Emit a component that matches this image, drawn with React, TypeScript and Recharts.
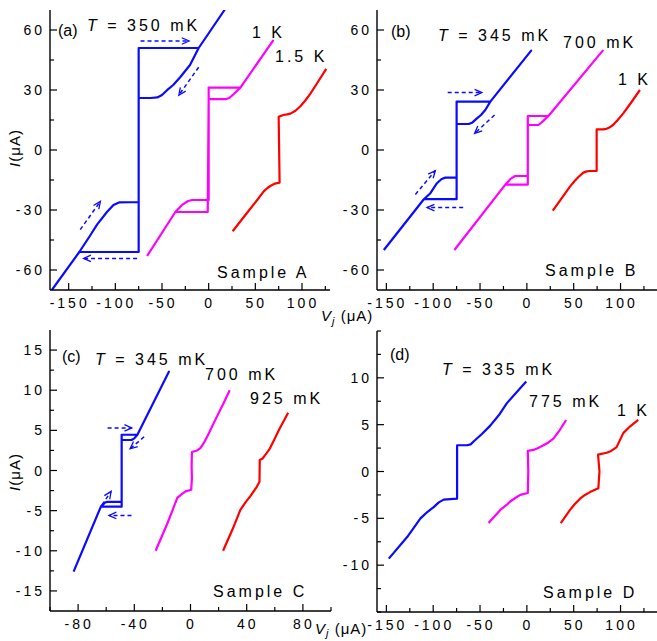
import { LineChart, Line, XAxis, YAxis, ReferenceLine } from 'recharts'

type Pt = [number, number]
type Seg = [number, number, number, number]

const FONT = '"Liberation Sans", Arial, Helvetica, sans-serif'
const BLUE = '#0a0aff'
const MAGENTA = '#ff00ff'
const RED = '#ff0000'

// ---- panel (a): sample A ----
const aBlue: Pt[] = [
  [-168, -70], [-138.6, -51], [-128, -43.5], [-119.6, -37.3], [-109, -31], [-102, -27.5], [-96, -26.2], [-75, -26],
  [-75, 51], [-10.7, 51], [17, 70],
  [-10.7, 51], [-20, 42.5], [-30.3, 36.5], [-38, 32.5], [-44.6, 29.9], [-50, 27.5], [-55, 26.3], [-62, 26], [-75, 26],
  [-75, -51], [-138.6, -51], [-168, -70],
]
const aMagenta: Pt[] = [
  [-66, -53], [-35.7, -31], [-28, -27.3], [-22, -25.5], [-17.8, -25], [0, -25], [0, 31.2], [34, 31.2], [69, 54.7],
  [34, 31.2], [27, 28], [22, 26], [18, 25.4], [0, 25.4], [-1, -31], [-35.7, -31], [-66, -53],
]
const aRed: Pt[] = [
  [25.7, -40.6], [41, -31.5], [52, -25], [59, -20.7], [63, -19], [66, -18], [71, -16.8], [76, -16.3], [75, 16.6],
  [80, 17.5], [84, 17.8], [87.6, 18.2], [93, 19.6], [98.3, 21.9], [104, 25], [109, 28.2], [117, 34], [126, 40.6],
]
const aArrows: Seg[] = [
  [-73, 54.5, -21, 54.5],
  [-10.7, 41.4, -32, 27.4],
  [-76.7, -54.2, -134, -54.2],
  [-137.6, -39.8, -116, -25.7],
]

// ---- panel (b): sample B ----
const bBlue: Pt[] = [
  [-152.7, -50], [-110, -24.6], [-103, -21.6], [-96, -16.6], [-91, -14.5], [-87, -13.8], [-75, -13.8],
  [-75, 24.2], [-39, 24.2], [4.6, 49.7],
  [-39, 24.2], [-44.4, 20], [-49, 17.5], [-53.3, 15.8], [-58, 13.8], [-62, 13], [-75, 13],
  [-75, -24.6], [-110, -24.6], [-152.7, -50],
]
const bMagenta: Pt[] = [
  [-77.4, -50], [-23, -17.3], [-17, -14.3], [-12.5, -13], [1, -13], [1, 17], [23, 17], [81, 49.7],
  [23, 17], [17, 14.3], [12.4, 12.5], [1, 12.5], [1, -17.3], [-23, -17.3], [-77.4, -50],
]
const bRed: Pt[] = [
  [27.7, -30.3], [46, -18.3], [51, -15.5], [55, -13.5], [60.3, -11.3], [64, -10.7], [67.4, -10.5], [74.5, -10.5],
  [74.5, 10.3], [81.6, 10.3], [85, 10.6], [88, 11.2], [92, 12.5], [97, 15], [102.9, 18.3], [111, 23.5], [120.7, 30],
]
const bArrows: Seg[] = [
  [-84.5, 28.7, -48, 28.7],
  [-34.5, 17.5, -55.8, 8.3],
  [-68, -28.8, -106.5, -28.8],
  [-119, -22.2, -97.7, -10.3],
]

// ---- panel (c): sample C ----
const cBlue: Pt[] = [
  [-83.2, -12.6], [-63.8, -4.5], [-61, -4], [-59, -3.9], [-49, -3.9], [-49, 4.45], [-37.8, 4.45], [-15.4, 12.3],
  [-37.8, 4.45], [-40, 4], [-42, 3.8], [-49, 3.8], [-49, -4.5], [-63.8, -4.5], [-83.2, -12.6],
]
const cMagenta: Pt[] = [
  [-24.8, -10], [-16.5, -6.6], [-12, -4.6], [-9.4, -3.4], [-6, -2.9], [-3.5, -2.6], [0.5, -2.4], [1, -1], [0.8, 0.5],
  [1, 2.3], [4.7, 2.5], [7, 2.8], [9.4, 3.4], [13, 4.6], [16.5, 5.9], [23.6, 8.4], [27.9, 10],
]
const cRed: Pt[] = [
  [23.2, -10], [30.7, -7], [35.5, -4.9], [39, -4], [42.6, -3.2], [47.3, -2], [49.1, -1.4], [49.3, 1.3], [51.3, 1.5],
  [53.5, 2], [56, 2.6], [59.5, 3.8], [63.1, 5.1], [69.5, 7.2],
]
const cArrows: Seg[] = [
  [-59, 5.3, -41.8, 5.3],
  [-33, 4.2, -43, 2.7],
  [-42, -5.6, -58, -5.6],
  [-63, -4.3, -56.5, -2.6],
]

// ---- panel (d): sample D ----
const dBlue: Pt[] = [
  [-147.4, -9.3], [-127.8, -7], [-113.6, -5], [-106, -4.3], [-99.5, -3.8], [-94, -3.3], [-88.8, -3], [-74.5, -2.9],
  [-74.5, 2.8], [-63.9, 2.8], [-60, 2.9], [-56.9, 3.2], [-48, 4], [-39.1, 4.9], [-30, 6], [-21.3, 7.3], [-0.7, 9.6],
]
const dMagenta: Pt[] = [
  [-40.9, -5.5], [-28.4, -4.1], [-22, -3.6], [-17.8, -3.2], [-12, -2.8], [-7.1, -2.5], [1, -2.3], [1.5, 0], [1, 2.2],
  [7, 2.3], [12, 2.5], [17.7, 2.8], [23, 3.1], [28.3, 3.5], [35, 4.4], [41.9, 5.5],
]
const dRed: Pt[] = [
  [36.2, -5.5], [46.1, -4.1], [51, -3.5], [56.8, -2.9], [62, -2.5], [67.4, -2.2], [76.3, -1.8], [77.5, 0], [76, 1.8],
  [85.2, 2], [90, 2.2], [95.8, 2.6], [102.9, 4.1], [110, 4.8], [118.9, 5.5],
]

// ---- ticks ----
const ticksAB_Y = [-60, -45, -30, -15, 0, 15, 30, 45, 60]
const ticksA_X = [-150, -125, -100, -75, -50, -25, 0, 25, 50, 75, 100, 125]
const ticksBD_X = [-150, -125, -100, -75, -50, -25, 0, 25, 50, 75, 100, 125]
const ticksC_X = [-100, -80, -60, -40, -20, 0, 20, 40, 60, 80, 100]
const ticksC_Y = [-15, -12.5, -10, -7.5, -5, -2.5, 0, 2.5, 5, 7.5, 10, 12.5, 15]
const ticksD_Y = [-15, -12.5, -10, -7.5, -5, -2.5, 0, 2.5, 5, 7.5, 10, 12.5, 15]

const rows = (pts: Pt[]) => pts.map(([v, i]) => ({ v, i }))

function DashArrow(props: any) {
  const { x1, y1, x2, y2 } = props
  if ([x1, y1, x2, y2].some((n) => n == null || Number.isNaN(n))) return <g />
  const ang = Math.atan2(y2 - y1, x2 - x1)
  const len = 8
  const sp = 0.42
  const p1 = [x2 - len * Math.cos(ang - sp), y2 - len * Math.sin(ang - sp)]
  const p2 = [x2 - len * Math.cos(ang + sp), y2 - len * Math.sin(ang + sp)]
  return (
    <g>
      <line x1={x1} y1={y1} x2={x2} y2={y2} stroke={BLUE} strokeWidth={1.5} strokeDasharray="4 3" />
      <polyline points={`${p1[0]},${p1[1]} ${x2},${y2} ${p2[0]},${p2[1]}`} fill="none" stroke={BLUE} strokeWidth={1.3} />
    </g>
  )
}

const labelStyle = { fontFamily: FONT, fontSize: 14, letterSpacing: 3, fill: '#000' }

function bottomTick(p: any, major: (v: number) => boolean) {
  const big = major(p.payload.value)
  return (
    <g>
      <line x1={p.x} y1={p.y} x2={p.x} y2={p.y - (big ? 7 : 4)} stroke="#000" strokeWidth={1.2} />
      {big && (
        <text x={p.x + 1} y={p.y + 18} textAnchor="middle" {...labelStyle}>
          {String(p.payload.value)}
        </text>
      )}
    </g>
  )
}
function topTick(p: any, major: (v: number) => boolean) {
  const big = major(p.payload.value)
  return <line x1={p.x} y1={p.y} x2={p.x} y2={p.y + (big ? 7 : 4)} stroke="#000" strokeWidth={1.2} />
}
function leftTick(p: any, major: (v: number) => boolean) {
  const big = major(p.payload.value)
  return (
    <g>
      <line x1={p.x} y1={p.y} x2={p.x + (big ? 7 : 4)} y2={p.y} stroke="#000" strokeWidth={1.2} />
      {big && (
        <text x={p.x - 5} y={p.y + 5} textAnchor="end" {...labelStyle}>
          {String(p.payload.value)}
        </text>
      )}
    </g>
  )
}
function rightTick(p: any, major: (v: number) => boolean) {
  const big = major(p.payload.value)
  return <line x1={p.x} y1={p.y} x2={p.x - (big ? 7 : 4)} y2={p.y} stroke="#000" strokeWidth={1.2} />
}

interface PanelProps {
  left: number
  top: number
  width: number
  height: number
  margin: { top: number; right: number; left: number; bottom: number }
  yWidth: number
  xHeight: number
  xDomain: [number, number]
  yDomain: [number, number]
  xTicks: number[]
  yTicks: number[]
  xMajor: (v: number) => boolean
  yMajor: (v: number) => boolean
  curves: { pts: Pt[]; color: string }[]
  arrows: Seg[]
}

const axisLine = { stroke: '#000', strokeWidth: 1.4 }

function Panel(p: PanelProps) {
  return (
    <div style={{ position: 'absolute', left: p.left, top: p.top }}>
      <LineChart width={p.width} height={p.height} margin={p.margin}>
        <XAxis
          xAxisId={0} dataKey="v" type="number" domain={p.xDomain} allowDataOverflow ticks={p.xTicks}
          interval={0} tickSize={0} tickMargin={0} tickLine={false} axisLine={axisLine} height={p.xHeight}
          tick={(t: any) => bottomTick(t, p.xMajor)}
        />
        <XAxis
          xAxisId="top" orientation="top" dataKey="v" type="number" domain={p.xDomain} allowDataOverflow
          ticks={p.xTicks} interval={0} tickSize={0} tickMargin={0} tickLine={false} axisLine={axisLine} height={0}
          tick={(t: any) => topTick(t, p.xMajor)}
        />
        <YAxis
          yAxisId={0} type="number" domain={p.yDomain} allowDataOverflow ticks={p.yTicks} interval={0}
          tickSize={0} tickMargin={0} tickLine={false} axisLine={axisLine} width={p.yWidth}
          tick={(t: any) => leftTick(t, p.yMajor)}
        />
        <YAxis
          yAxisId="right" orientation="right" type="number" domain={p.yDomain} allowDataOverflow ticks={p.yTicks}
          interval={0} tickSize={0} tickMargin={0} tickLine={false} axisLine={axisLine} width={0}
          tick={(t: any) => rightTick(t, p.yMajor)}
        />
        {p.curves.map((c, k) => (
          <Line
            key={k} data={rows(c.pts)} dataKey="i" type="linear" stroke={c.color} strokeWidth={2.2}
            dot={false} activeDot={false} isAnimationActive={false} strokeLinejoin="round"
          />
        ))}
        {p.arrows.map((s, k) => (
          <ReferenceLine
            key={'ar' + k}
            segment={[{ x: s[0], y: s[1] }, { x: s[2], y: s[3] }]}
            shape={DashArrow}
            ifOverflow="visible"
          />
        ))}
      </LineChart>
    </div>
  )
}

const t16 = { fontFamily: FONT, fontSize: 16, letterSpacing: 3, fill: '#000' }
const tAx = { fontFamily: FONT, fontSize: 15, letterSpacing: 1, fill: '#000' }

function Temp({ x, y, t }: { x: number; y: number; t: string }) {
  return (
    <text x={x} y={y} {...t16}>
      <tspan fontStyle="italic">T</tspan>
      {' = ' + t}
    </text>
  )
}

function Overlay() {
  return (
    <svg width={657} height={641} style={{ position: 'absolute', left: 0, top: 0, pointerEvents: 'none' }}>
      <text x={58} y={36} fontFamily={FONT} fontSize={16} fill="#000">(a)</text>
      <Temp x={87} y={31} t="350 mK" />
      <text x={252} y={38} {...t16}>1 K</text>
      <text x={275} y={62} {...t16}>1.5 K</text>
      <text x={217} y={278} {...t16}>Sample A</text>

      <text x={391} y={37} fontFamily={FONT} fontSize={16} fill="#000">(b)</text>
      <Temp x={438} y={41} t="345 mK" />
      <text x={563} y={48} {...t16}>700 mK</text>
      <text x={618} y={85} {...t16}>1 K</text>
      <text x={545} y={276} {...t16}>Sample B</text>

      <text x={62} y={362} fontFamily={FONT} fontSize={16} fill="#000">(c)</text>
      <Temp x={95} y={365} t="345 mK" />
      <text x={205} y={380} {...t16}>700 mK</text>
      <text x={250} y={404} {...t16}>925 mK</text>
      <text x={213} y={597} {...t16}>Sample C</text>

      <text x={390} y={360} fontFamily={FONT} fontSize={16} fill="#000">(d)</text>
      <Temp x={442} y={375} t="335 mK" />
      <text x={529} y={407} {...t16}>775 mK</text>
      <text x={617} y={416} {...t16}>1 K</text>
      <text x={543} y={598} {...t16}>Sample D</text>

      <text x={20} y={148} textAnchor="middle" transform="rotate(-90 20 148)" {...tAx}>
        <tspan fontStyle="italic">I</tspan>(μA)
      </text>
      <text x={20} y={472} textAnchor="middle" transform="rotate(-90 20 472)" {...tAx}>
        <tspan fontStyle="italic">I</tspan>(μA)
      </text>

      <text x={321} y={321} {...tAx}>
        <tspan fontStyle="italic">V</tspan>
        <tspan fontStyle="italic" fontSize={11} dy={4}>j</tspan>
        <tspan dy={-4}> (μA)</tspan>
      </text>
      <text x={315} y={634} {...tAx}>
        <tspan fontStyle="italic">V</tspan>
        <tspan fontStyle="italic" fontSize={11} dy={3}>j</tspan>
        <tspan dy={-3}> (μA)</tspan>
      </text>
    </svg>
  )
}

const m30 = (v: number) => v % 30 === 0
const m50 = (v: number) => v % 50 === 0
const m40 = (v: number) => v % 40 === 0
const m5 = (v: number) => v % 5 === 0 && Math.abs(v) < 15
const m5c = (v: number) => v % 5 === 0

export default function App() {
  return (
    <div style={{ position: 'absolute', left: 0, top: 0, width: 657, height: 641, overflow: 'hidden', background: '#fff' }}>
      <Panel
        left={0} top={0} width={340} height={320} margin={{ top: 10, right: 10, left: 0, bottom: 0 }}
        yWidth={50} xHeight={30} xDomain={[-170, 130]} yDomain={[-70, 70]}
        xTicks={ticksA_X} yTicks={ticksAB_Y} xMajor={m50} yMajor={m30}
        curves={[{ pts: aBlue, color: BLUE }, { pts: aMagenta, color: MAGENTA }, { pts: aRed, color: RED }]}
        arrows={aArrows}
      />
      <Panel
        left={330} top={0} width={330} height={320} margin={{ top: 10, right: 2, left: 0, bottom: 0 }}
        yWidth={47} xHeight={30} xDomain={[-160, 140]} yDomain={[-70, 70]}
        xTicks={ticksBD_X} yTicks={ticksAB_Y} xMajor={m50} yMajor={m30}
        curves={[{ pts: bBlue, color: BLUE }, { pts: bMagenta, color: MAGENTA }, { pts: bRed, color: RED }]}
        arrows={bArrows}
      />
      <Panel
        left={0} top={320} width={340} height={321} margin={{ top: 10, right: 9, left: 0, bottom: 0 }}
        yWidth={50} xHeight={30} xDomain={[-100, 100]} yDomain={[-17.5, 17.5]}
        xTicks={ticksC_X} yTicks={ticksC_Y} xMajor={m40} yMajor={m5c}
        curves={[{ pts: cBlue, color: BLUE }, { pts: cMagenta, color: MAGENTA }, { pts: cRed, color: RED }]}
        arrows={cArrows}
      />
      <Panel
        left={330} top={320} width={330} height={321} margin={{ top: 11, right: 2, left: 0, bottom: 0 }}
        yWidth={47} xHeight={29} xDomain={[-160, 140]} yDomain={[-15, 15]}
        xTicks={ticksBD_X} yTicks={ticksD_Y} xMajor={m50} yMajor={m5}
        curves={[{ pts: dBlue, color: BLUE }, { pts: dMagenta, color: MAGENTA }, { pts: dRed, color: RED }]}
        arrows={[]}
      />
      <Overlay />
    </div>
  )
}
